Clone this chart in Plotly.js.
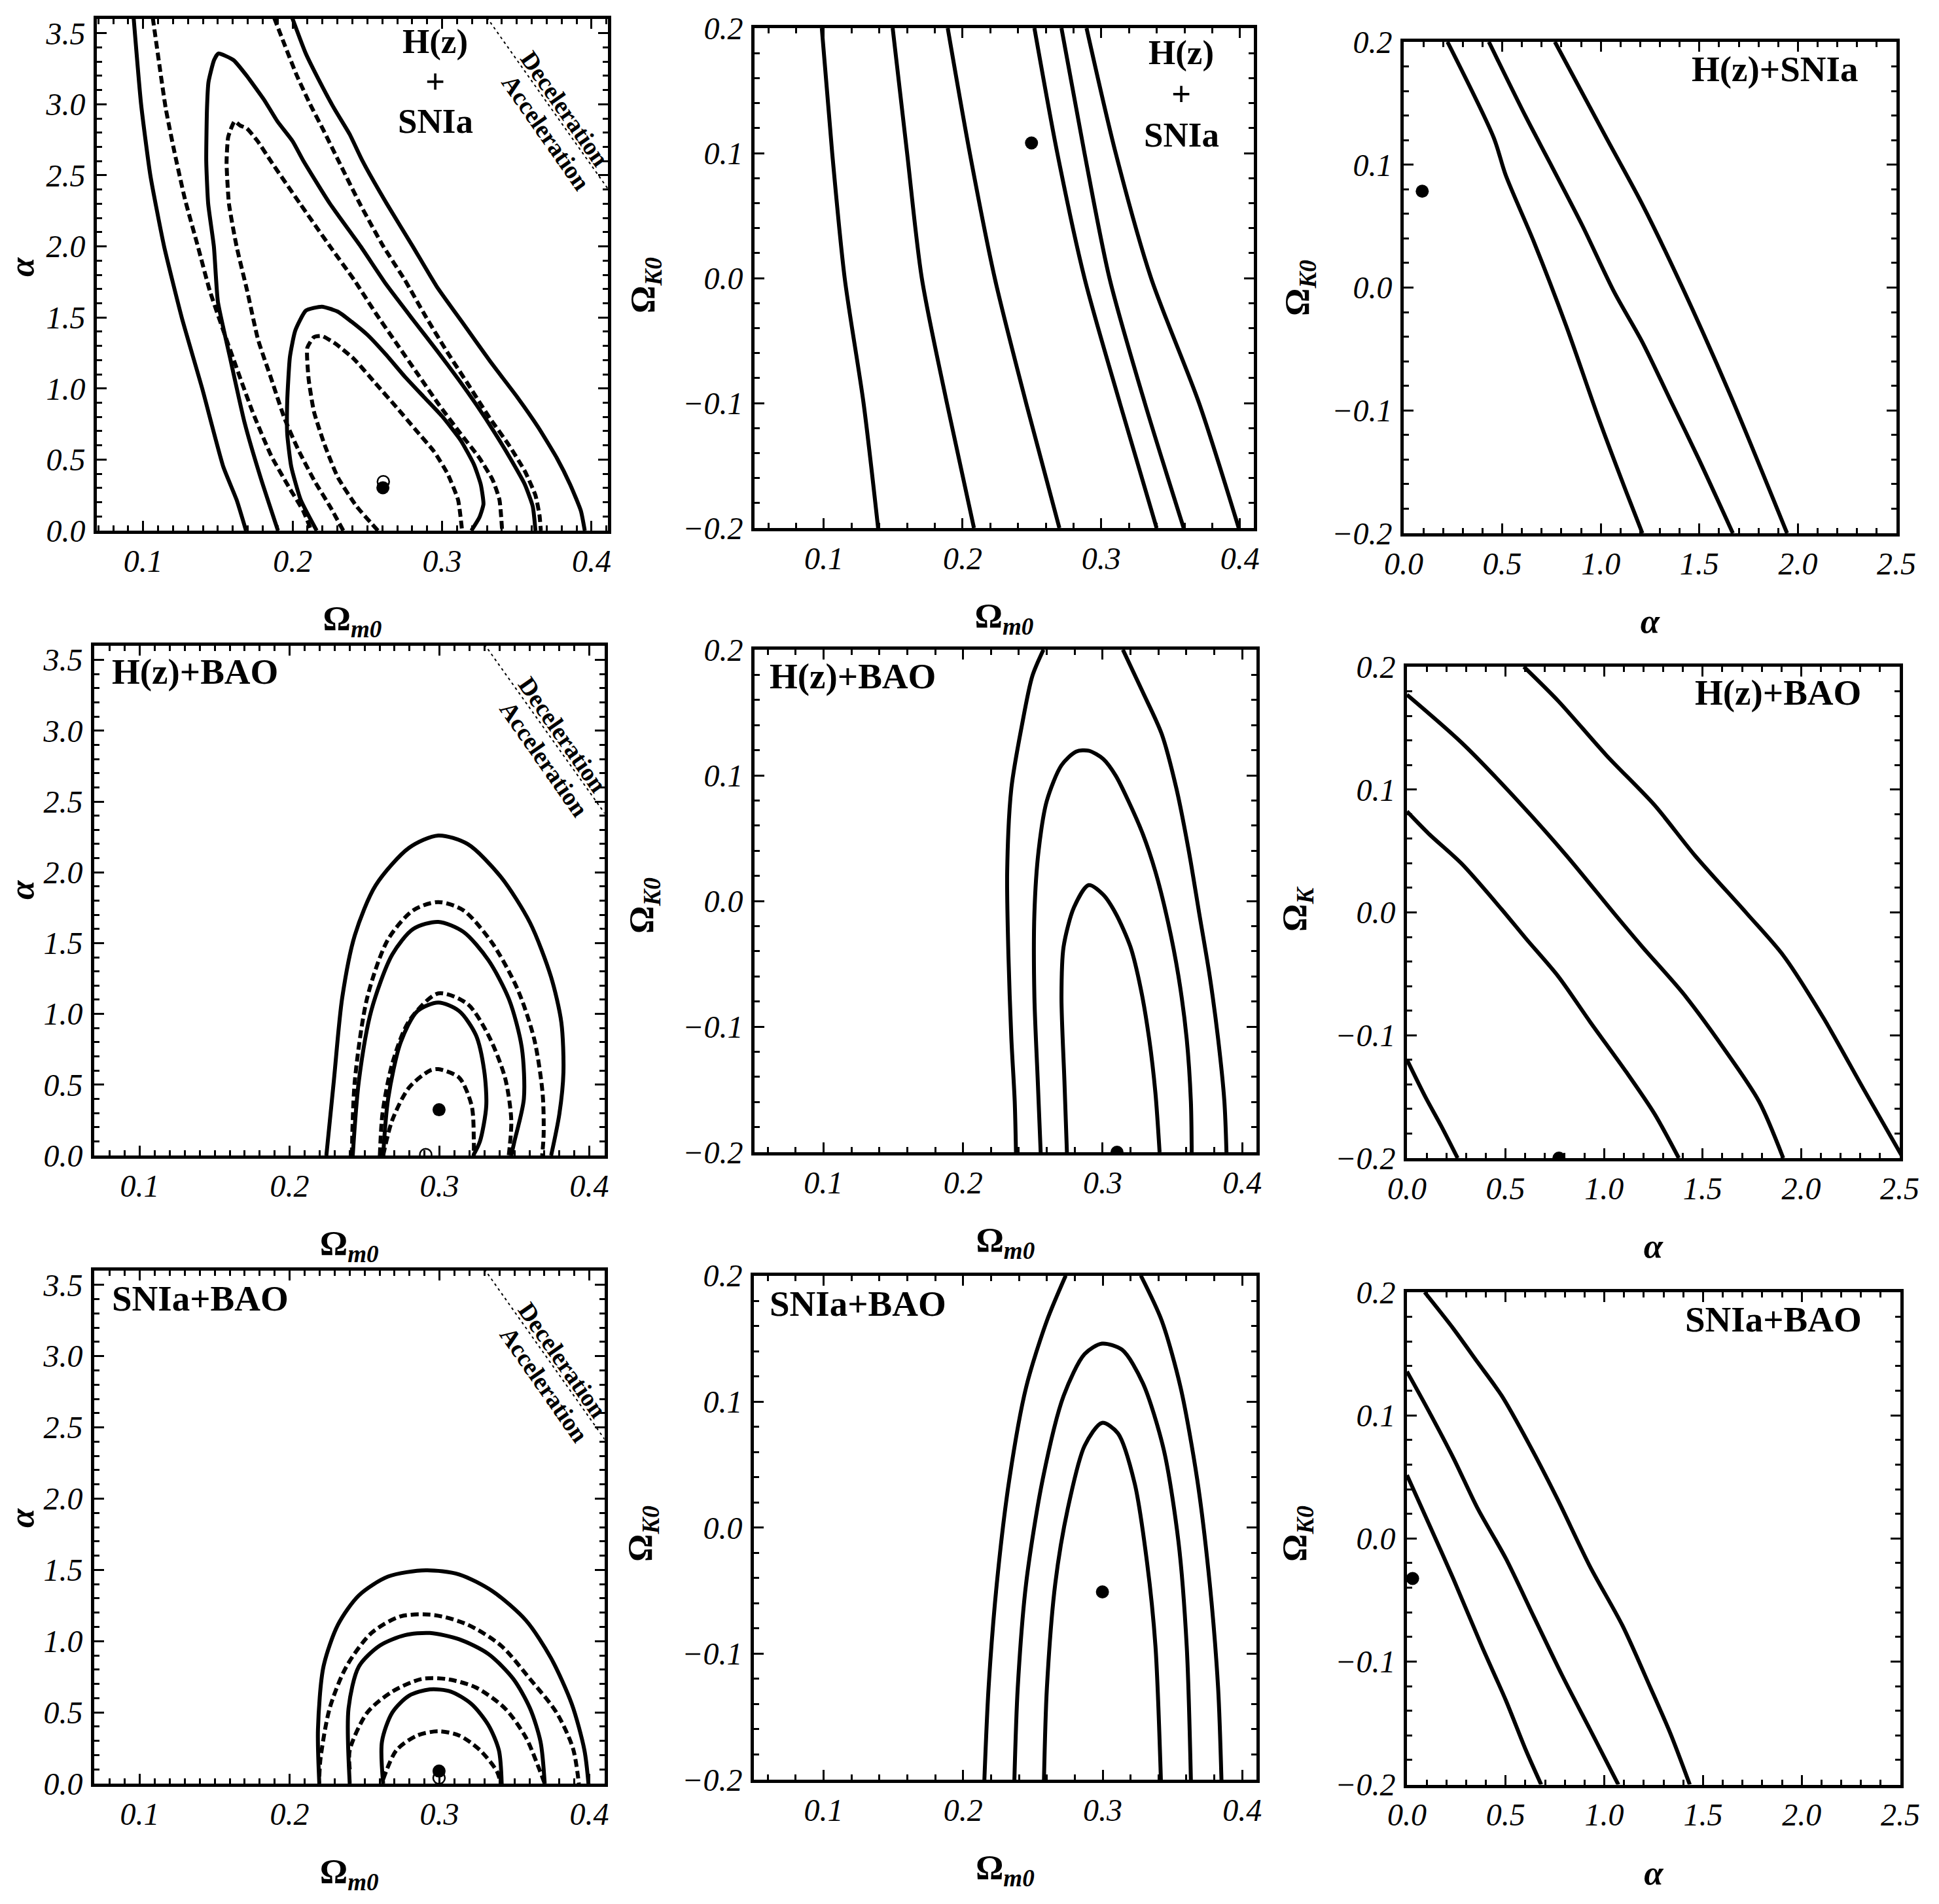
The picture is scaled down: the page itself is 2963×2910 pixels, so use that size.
<!DOCTYPE html>
<html>
<head>
<meta charset="utf-8">
<script src="https://cdn.plot.ly/plotly-3.0.1.min.js"></script>
<style>html,body{margin:0;padding:0;background:#fff}#plot{width:2963px;height:2910px}</style>
</head>
<body>
<div id="plot"></div>
<script>
// ---------------- DATA ----------------
// tick values / labels
const omTickVals = [0.1, 0.2, 0.3, 0.4];
const omTickText = ['0.1', '0.2', '0.3', '0.4'];
const alYTickVals = [0, 0.5, 1, 1.5, 2, 2.5, 3, 3.5];
const alYTickText = ['0.0', '0.5', '1.0', '1.5', '2.0', '2.5', '3.0', '3.5'];
const okTickVals = [-0.2, -0.1, 0, 0.1, 0.2];
const okTickText = ['\u22120.2', '\u22120.1', '0.0', '0.1', '0.2'];
const alXTickVals = [0, 0.5, 1, 1.5, 2, 2.5];
const alXTickText = ['0.0', '0.5', '1.0', '1.5', '2.0', '2.5'];

// Panel 1: H(z)+SNIa, Omega_m0 vs alpha  (solid & dashed contours)
const p1_solid3L = [[0.0936,3.61],[0.0986,3.0],[0.1048,2.5],[0.114,2.0],[0.1258,1.5],[0.1395,1.0],[0.1536,0.45],[0.1625,0.217],[0.1688,0]];
const p1_solid3R = [[0.1993,3.62],[0.2088,3.357],[0.2176,3.17],[0.2278,2.97],[0.2381,2.79],[0.2468,2.60],[0.263,2.3],[0.2804,2.0],[0.2964,1.718],[0.3143,1.455],[0.3321,1.192],[0.35,0.944],[0.3643,0.728],[0.3768,0.511],[0.3857,0.325],[0.3929,0.139],[0.3955,0]];
const p1_solid2 = [[0.1902,0],[0.1786,0.372],[0.1679,0.758],[0.158,1.223],[0.15,1.61],[0.1473,2.0],[0.1435,2.3],[0.1422,2.6],[0.1427,2.97],[0.1437,3.156],[0.1474,3.31],[0.1503,3.357],[0.1605,3.31],[0.1693,3.20],[0.1766,3.095],[0.181,3.03],[0.1898,2.88],[0.2,2.74],[0.2073,2.60],[0.225,2.3],[0.2455,2.0],[0.2625,1.734],[0.2804,1.486],[0.2964,1.269],[0.3107,1.068],[0.3232,0.882],[0.3357,0.681],[0.3464,0.495],[0.3554,0.325],[0.3607,0.170],[0.3625,0]];
const p1_solid1 = [[0.2161,0],[0.2054,0.217],[0.1991,0.449],[0.1964,0.681],[0.1964,0.913],[0.1982,1.223],[0.2018,1.409],[0.2089,1.548],[0.2196,1.576],[0.2304,1.54],[0.2393,1.471],[0.25,1.378],[0.2625,1.238],[0.275,1.084],[0.2875,0.944],[0.3,0.805],[0.3125,0.635],[0.3214,0.464],[0.3259,0.325],[0.3277,0.186],[0.325,0.093],[0.3196,0]];
const p1_dash3L = [[0.1064,3.61],[0.1108,3.28],[0.1151,2.97],[0.121,2.66],[0.128,2.33],[0.1366,2.0],[0.1446,1.687],[0.1536,1.409],[0.1625,1.145],[0.1732,0.836],[0.1857,0.526],[0.1982,0.294],[0.2071,0.139],[0.2125,0]];
const p1_dash3R = [[0.1876,3.61],[0.1942,3.43],[0.2029,3.20],[0.2117,3.0],[0.2205,2.82],[0.2308,2.60],[0.245,2.3],[0.2607,2.0],[0.275,1.765],[0.2893,1.502],[0.3036,1.254],[0.3179,1.022],[0.3321,0.789],[0.3446,0.604],[0.3554,0.418],[0.3625,0.248],[0.3652,0.108],[0.3661,0]];
const p1_dash2 = [[0.2339,0],[0.225,0.17],[0.2143,0.356],[0.2036,0.573],[0.1946,0.789],[0.1857,1.068],[0.1768,1.347],[0.1696,1.687],[0.1625,2.0],[0.1574,2.3],[0.1558,2.59],[0.1569,2.77],[0.1612,2.88],[0.1649,2.85],[0.1693,2.83],[0.1766,2.74],[0.1854,2.6],[0.205,2.3],[0.225,2.0],[0.2411,1.765],[0.2554,1.533],[0.2696,1.316],[0.2839,1.099],[0.2982,0.882],[0.3125,0.681],[0.325,0.511],[0.3339,0.356],[0.3384,0.217],[0.3402,0]];
const p1_dash1 = [[0.2571,0],[0.2429,0.17],[0.2304,0.372],[0.2214,0.604],[0.2143,0.836],[0.2107,1.068],[0.2098,1.285],[0.2143,1.362],[0.2196,1.37],[0.2286,1.316],[0.2411,1.207],[0.2554,1.037],[0.2696,0.867],[0.2821,0.712],[0.2946,0.557],[0.3036,0.402],[0.3107,0.217],[0.3134,0]];
const p1_best = [0.2604, 0.302];
const p1_bestOpen = [0.2607, 0.344];

// deceleration / acceleration boundary (same in all Omega_m0-alpha panels)
const decel_om = [0.330, 0.412];
const decel_al = [3.61, 2.39];

// Panel 2: H(z)+SNIa, Omega_m0 vs Omega_K0
const p2_l1 = [[0.0985,0.2],[0.106,0.1],[0.115,0.0],[0.1286,-0.1],[0.1391,-0.2]];
const p2_l2 = [[0.1496,0.2],[0.160,0.1],[0.1706,0.0],[0.1887,-0.1],[0.2082,-0.2]];
const p2_l3 = [[0.1893,0.2],[0.2052,0.1],[0.2232,0.0],[0.2458,-0.1],[0.2698,-0.2]];
const p2_l4 = [[0.2518,0.2],[0.2683,0.1],[0.2879,0.0],[0.3134,-0.1],[0.3399,-0.2]];
const p2_l5 = [[0.2713,0.2],[0.2879,0.1],[0.3059,0.0],[0.3314,-0.1],[0.3594,-0.2]];
const p2_l6 = [[0.2894,0.2],[0.3104,0.1],[0.3359,0.0],[0.3705,-0.1],[0.3991,-0.2]];
const p2_best = [0.2497, 0.1081];

// Panel 3: H(z)+SNIa, alpha vs Omega_K0
const p3_l1 = [[0.222,0.2],[0.457,0.1219],[0.518,0.0913],[0.661,0.037],[0.824,-0.031],[0.987,-0.1056],[1.13,-0.1667],[1.211,-0.2]];
const p3_l2 = [[0.432,0.2],[0.62,0.1389],[0.742,0.1015],[0.906,0.0506],[1.068,-0.0037],[1.211,-0.0445],[1.354,-0.092],[1.497,-0.1396],[1.67,-0.2]];
const p3_l3 = [[0.767,0.2],[1.028,0.1219],[1.211,0.0676],[1.415,-0.0003],[1.66,-0.0886],[1.945,-0.2]];
const p3_best = [0.094, 0.0784];

// Panel 4: H(z)+BAO, Omega_m0 vs alpha
const p4_solid3 = [[0.2245,0],[0.2295,0.528],[0.2351,1.116],[0.2435,1.556],[0.2574,1.908],[0.2797,2.173],[0.2992,2.26],[0.3187,2.2],[0.341,1.967],[0.3604,1.644],[0.3744,1.262],[0.3813,0.94],[0.3827,0.587],[0.38,0.294],[0.3745,0]];
const p4_dash3 = [[0.2415,0],[0.2435,0.528],[0.2518,1.116],[0.2657,1.527],[0.2825,1.732],[0.2992,1.79],[0.3159,1.732],[0.3354,1.497],[0.3521,1.174],[0.3632,0.822],[0.3688,0.44],[0.3695,0.15],[0.3685,0]];
const p4_solid2 = [[0.2421,0],[0.2462,0.528],[0.2546,1.028],[0.2685,1.42],[0.2825,1.6],[0.2992,1.65],[0.3159,1.58],[0.3326,1.38],[0.3465,1.1],[0.3549,0.763],[0.3563,0.4],[0.35,0.1],[0.3479,0]];
const p4_dash2 = [[0.2602,0],[0.262,0.3],[0.2685,0.65],[0.2797,0.95],[0.2992,1.145],[0.3187,1.07],[0.3326,0.85],[0.3437,0.55],[0.3479,0.25],[0.3462,0]];
const p4_solid1 = [[0.2624,0],[0.2657,0.4],[0.2741,0.8],[0.2853,1.02],[0.2992,1.08],[0.3131,1.02],[0.3243,0.85],[0.3298,0.6],[0.3312,0.35],[0.327,0.1],[0.3225,0]];
const p4_dash1 = [[0.2624,0],[0.2685,0.25],[0.2797,0.48],[0.2936,0.6],[0.2992,0.61],[0.3131,0.55],[0.3215,0.35],[0.3229,0.1],[0.3229,0]];
const p4_best = [0.2997, 0.323];
const p4_bestOpen = [0.2908, 0.006];

// Panel 5: H(z)+BAO, Omega_m0 vs Omega_K0
const p5_outerL = [[0.2576,0.2],[0.2496,0.179],[0.2421,0.1395],[0.2346,0.0897],[0.2316,0.0233],[0.2325,-0.0432],[0.2346,-0.1096],[0.237,-0.1595],[0.2379,-0.2]];
const p5_outerR = [[0.3145,0.2],[0.3288,0.1661],[0.3423,0.1329],[0.3528,0.0897],[0.3617,0.0399],[0.3692,-0.01],[0.3767,-0.0598],[0.3827,-0.1096],[0.3872,-0.1595],[0.3887,-0.2]];
const p5_mid = [[0.2556,-0.2],[0.2535,-0.1429],[0.2511,-0.0764],[0.2511,-0.01],[0.2541,0.0399],[0.26,0.0797],[0.2705,0.108],[0.281,0.1189],[0.29,0.1196],[0.3004,0.113],[0.3094,0.0997],[0.3184,0.0797],[0.3288,0.0532],[0.3378,0.0233],[0.3468,-0.0166],[0.3543,-0.0598],[0.3602,-0.1096],[0.3632,-0.1595],[0.3638,-0.2]];
const p5_inner = [[0.2744,-0.2],[0.2726,-0.1429],[0.2705,-0.0764],[0.272,-0.0365],[0.2795,-0.005],[0.29,0.0126],[0.3004,0.005],[0.3094,-0.01],[0.3199,-0.0365],[0.3273,-0.0698],[0.3333,-0.1096],[0.3378,-0.1528],[0.3408,-0.2]];
const p5_best = [0.3103, -0.2];

// Panel 6: H(z)+BAO, alpha vs Omega_K
const p6_l1 = [[0,-0.1199],[0.094,-0.1504],[0.175,-0.1742],[0.257,-0.2]];
const p6_l2 = [[0,0.0822],[0.114,0.0635],[0.277,0.0397],[0.481,0.0024],[0.604,-0.0214],[0.767,-0.052],[0.93,-0.0893],[1.113,-0.13],[1.256,-0.164],[1.379,-0.2]];
const p6_l3 = [[0,0.1772],[0.277,0.1382],[0.563,0.0907],[0.808,0.0465],[1.052,-0.001],[1.195,-0.0282],[1.399,-0.0655],[1.603,-0.1097],[1.786,-0.1538],[1.909,-0.2]];
const p6_l4 = [[0.593,0.2],[0.767,0.1722],[1.011,0.128],[1.256,0.0873],[1.46,0.0465],[1.725,-0.001],[1.909,-0.035],[2.113,-0.0859],[2.316,-0.1436],[2.51,-0.198]];
const p6_best = [0.771, -0.2];

// Panel 7: SNIa+BAO, Omega_m0 vs alpha
const p7_solid3 = [[0.2198,0],[0.2189,0.382],[0.2226,0.822],[0.2323,1.116],[0.2462,1.321],[0.2657,1.453],[0.2908,1.497],[0.3131,1.468],[0.3354,1.35],[0.3577,1.145],[0.3744,0.881],[0.3883,0.558],[0.3967,0.235],[0.3994,0]];
const p7_dash3 = [[0.2198,0.05],[0.2206,0.176],[0.2267,0.528],[0.2379,0.822],[0.2546,1.057],[0.2741,1.174],[0.2964,1.183],[0.3187,1.116],[0.341,0.969],[0.3604,0.734],[0.378,0.5],[0.389,0.25],[0.393,0]];
const p7_solid2 = [[0.2401,0],[0.2393,0.528],[0.2462,0.822],[0.2602,0.969],[0.2769,1.042],[0.2936,1.057],[0.3131,1.013],[0.3326,0.91],[0.3493,0.734],[0.3604,0.528],[0.3674,0.294],[0.3702,0]];
const p7_dash2 = [[0.2401,0.1],[0.2401,0.235],[0.2518,0.499],[0.2685,0.646],[0.288,0.734],[0.3047,0.734],[0.3242,0.675],[0.3437,0.528],[0.3577,0.323],[0.366,0.117],[0.3702,0]];
const p7_solid1 = [[0.2624,0],[0.2616,0.294],[0.2685,0.499],[0.2797,0.617],[0.2936,0.661],[0.3075,0.646],[0.3214,0.558],[0.3326,0.411],[0.3396,0.235],[0.3415,0]];
const p7_dash1 = [[0.2624,0.03],[0.2713,0.235],[0.2852,0.338],[0.2992,0.367],[0.3131,0.338],[0.327,0.235],[0.3382,0.088],[0.3409,0]];
const p7_best = [0.2997, 0.088];
const p7_bestOpen = [0.2997, 0.04];

// Panel 8: SNIa+BAO, Omega_m0 vs Omega_K0
const p8_outerL = [[0.2735,0.2],[0.26,0.1642],[0.2451,0.1113],[0.2331,0.0384],[0.2241,-0.0444],[0.2182,-0.1272],[0.2152,-0.2]];
const p8_outerR = [[0.3273,0.2],[0.3423,0.1642],[0.3558,0.1113],[0.3677,0.0384],[0.3767,-0.0444],[0.3827,-0.1272],[0.3851,-0.2]];
const p8_mid = [[0.2367,-0.2],[0.2391,-0.1272],[0.2451,-0.0444],[0.257,0.0384],[0.272,0.1046],[0.287,0.1377],[0.2995,0.146],[0.3139,0.1411],[0.3288,0.1146],[0.3438,0.0616],[0.3543,-0.0113],[0.3602,-0.094],[0.3632,-0.2]];
const p8_inner = [[0.2579,-0.2],[0.26,-0.1272],[0.266,-0.0444],[0.275,0.0152],[0.287,0.0649],[0.2995,0.0831],[0.3109,0.0748],[0.3229,0.0351],[0.3318,-0.0278],[0.3378,-0.094],[0.3417,-0.2]];
const p8_best = [0.2998, -0.051];

// Panel 9: SNIa+BAO, alpha vs Omega_K0
const p9_l1 = [[0,0.0515],[0.114,0.0108],[0.236,-0.0332],[0.379,-0.0875],[0.501,-0.1315],[0.603,-0.1722],[0.68,-0.2]];
const p9_l2 = [[0,0.1356],[0.114,0.1024],[0.236,0.0651],[0.358,0.0244],[0.501,-0.0163],[0.643,-0.0637],[0.786,-0.1112],[0.928,-0.1553],[1.071,-0.2]];
const p9_l3 = [[0.0896,0.2],[0.236,0.1702],[0.358,0.1431],[0.48,0.1159],[0.623,0.0753],[0.765,0.0312],[0.928,-0.023],[1.091,-0.0705],[1.234,-0.1214],[1.335,-0.1586],[1.433,-0.2]];
const p9_best = [0.0285, -0.0325];

// axis title texts
const OM = '<b>Ω<sub><i>m0</i></sub></b>';
const OK = '<b>Ω<sub><i>K0</i></sub></b>';
const OKs = '<b>Ω<sub><i>K</i></sub></b>';
const AL = '<b><i>α</i></b>';
const xTitles = [OM, OM, AL, OM, OM, AL, OM, OM, AL];

// ---------------- LAYOUT ----------------
const W = 2963, H = 2910;
const FONT = '"Liberation Serif", "Times New Roman", serif';
const px = v => v / W, py = v => 1 - v / H;

// panel frames in pixels: [left, right, top, bottom]
const frames = [
  [148, 929, 29, 811], [1153, 1916, 43, 807], [2145, 2898, 64, 815],
  [144, 923.5, 987, 1766], [1153, 1919.6, 993, 1761], [2150, 2903, 1019, 1770],
  [144, 923.5, 1942, 2726], [1152, 1919.6, 1949.5, 2720], [2150, 2904, 1975, 2727.6]
];
const xRanges = [[0.069,0.411],[0.05,0.41],[0,2.5],[0.0696,0.41],[0.0506,0.41],[0,2.5],[0.0696,0.41],[0.05,0.41],[0,2.5]];
const yRanges = [[0,3.6],[-0.2,0.2],[-0.2,0.2],[0,3.6],[-0.2,0.2],[-0.2,0.2],[0,3.6],[-0.2,0.2],[-0.2,0.2]];
const OMX = {vals: omTickVals, text: omTickText, minor: 0.01};
const OMX2 = {vals: omTickVals, text: omTickText, minor: 0.02};
const ALX = {vals: alXTickVals, text: alXTickText, minor: 0.1};
const ALY = {vals: alYTickVals, text: alYTickText, minor: 0.1};
const OKY = {vals: okTickVals, text: okTickText, minor: 0.02};
const xTickSet = [OMX, OMX2, ALX, OMX, OMX2, ALX, OMX, OMX2, ALX];
const yTickSet = [ALY, OKY, OKY, ALY, OKY, OKY, ALY, OKY, OKY];

function axis(domain, range, t, anchor, standoff) {
  return {
    domain: domain, range: range, anchor: anchor,
    tickmode: 'array', tickvals: t.vals, ticktext: t.text.map(s => '<i>' + s + '</i>'),
    ticks: 'inside', ticklen: 15, tickwidth: 3, tickcolor: '#000',
    showline: true, linewidth: 5, linecolor: '#000', mirror: 'ticks',
    showgrid: false, zeroline: false, fixedrange: true,
    ticklabelstandoff: standoff,
    tickfont: {family: FONT, size: 48, color: '#000'},
    minor: {dtick: t.minor, tick0: 0, ticks: 'inside', ticklen: 8, tickwidth: 3, tickcolor: '#000', showgrid: false}
  };
}

const layout = {
  width: W, height: H, margin: {l: 0, r: 0, t: 0, b: 0},
  paper_bgcolor: '#fff', plot_bgcolor: '#fff', showlegend: false,
  font: {family: FONT, color: '#000'},
  annotations: []
};
for (let i = 0; i < 9; i++) {
  const f = frames[i];
  const n = i === 0 ? '' : String(i + 1);
  const xa = axis([px(f[0]), px(f[1])], xRanges[i], xTickSet[i], 'y' + n, 0);
  xa.title = {text: xTitles[i], font: {family: FONT, size: 53, color: '#000'}, standoff: 45};
  layout['xaxis' + n] = xa;
  layout['yaxis' + n] = axis([py(f[3]), py(f[2])], yRanges[i], yTickSet[i], 'x' + n, 3);
}

// ---------------- TRACES ----------------
const traces = [];
function line(pts, k, dash, smooth) {
  const n = k === 1 ? '' : String(k);
  traces.push({
    type: 'scatter', mode: 'lines', xaxis: 'x' + n, yaxis: 'y' + n,
    x: pts.map(p => p[0]), y: pts.map(p => p[1]),
    line: {color: '#000', width: 6, dash: dash ? '12px,6px' : 'solid', shape: 'spline', smoothing: smooth || 0.8},
    hoverinfo: 'skip'
  });
}
function dot(pt, k, open) {
  const n = k === 1 ? '' : String(k);
  traces.push({
    type: 'scatter', mode: 'markers', xaxis: 'x' + n, yaxis: 'y' + n,
    x: [pt[0]], y: [pt[1]],
    marker: open ? {size: 18, color: '#fff', line: {color: '#000', width: 2.5}} : {size: 20, color: '#000'},
    hoverinfo: 'skip'
  });
}
function decel(k) {
  const n = k === 1 ? '' : String(k);
  traces.push({
    type: 'scatter', mode: 'lines', xaxis: 'x' + n, yaxis: 'y' + n,
    x: decel_om, y: decel_al, line: {color: '#000', width: 2, dash: '4px,5px'}, hoverinfo: 'skip'
  });
}

[p1_solid3L, p1_solid3R, p1_solid2, p1_solid1].forEach(c => line(c, 1, false, 0.5));
[p1_dash3L, p1_dash3R, p1_dash2, p1_dash1].forEach(c => line(c, 1, true, 0.5));
decel(1); dot(p1_bestOpen, 1, true); dot(p1_best, 1, false);
[p2_l1, p2_l2, p2_l3, p2_l4, p2_l5, p2_l6].forEach(c => line(c, 2, false));
dot(p2_best, 2, false);
[p3_l1, p3_l2, p3_l3].forEach(c => line(c, 3, false));
dot(p3_best, 3, false);
[p4_solid3, p4_solid2, p4_solid1].forEach(c => line(c, 4, false));
[p4_dash3, p4_dash2, p4_dash1].forEach(c => line(c, 4, true));
decel(4); dot(p4_bestOpen, 4, true); dot(p4_best, 4, false);
[p5_outerL, p5_outerR, p5_mid, p5_inner].forEach(c => line(c, 5, false));
dot(p5_best, 5, false);
[p6_l1, p6_l2, p6_l3, p6_l4].forEach(c => line(c, 6, false));
dot(p6_best, 6, false);
[p7_solid3, p7_solid2, p7_solid1].forEach(c => line(c, 7, false));
[p7_dash3, p7_dash2, p7_dash1].forEach(c => line(c, 7, true));
decel(7); dot(p7_bestOpen, 7, true); dot(p7_best, 7, false);
[p8_outerL, p8_outerR, p8_mid, p8_inner].forEach(c => line(c, 8, false));
dot(p8_best, 8, false);
[p9_l1, p9_l2, p9_l3].forEach(c => line(c, 9, false));
dot(p9_best, 9, false);

// ---------------- ANNOTATIONS ----------------
function ann(text, x, y, size, opts) {
  layout.annotations.push(Object.assign({
    text: text, x: px(x), y: py(y), xref: 'paper', yref: 'paper',
    showarrow: false, xanchor: 'center', yanchor: 'middle',
    font: {family: FONT, size: size, color: '#000'}
  }, opts || {}));
}
// y titles
ann(AL, 33, 408, 53, {textangle: -90});
ann(OK, 986, 436, 53, {textangle: -90});
ann(OK, 1986, 440, 53, {textangle: -90});
ann(AL, 33, 1360, 53, {textangle: -90});
ann(OK, 984, 1384, 53, {textangle: -90});
ann(OKs, 1982, 1390, 53, {textangle: -90});
ann(AL, 33, 2320, 53, {textangle: -90});
ann(OK, 982, 2344, 53, {textangle: -90});
ann(OK, 1982, 2344, 53, {textangle: -90});

// panel labels
ann('<b>H(z)</b>', 665, 63, 53); ann('<b>+</b>', 665, 124, 53); ann('<b>SNIa</b>', 665, 185, 53);
ann('<b>H(z)</b>', 1805, 80, 53); ann('<b>+</b>', 1805, 143, 53); ann('<b>SNIa</b>', 1805, 206, 53);
ann('<b>H(z)+SNIa</b>', 2712, 106, 55);
ann('<b>H(z)+BAO</b>', 169, 1026, 55, {xanchor: 'left'});
ann('<b>H(z)+BAO</b>', 1174, 1033, 55, {xanchor: 'left'});
ann('<b>H(z)+BAO</b>', 2717, 1058, 55);
ann('<b>SNIa+BAO</b>', 169, 1984, 55, {xanchor: 'left'});
ann('<b>SNIa+BAO</b>', 1174, 1992, 55, {xanchor: 'left'});
ann('<b>SNIa+BAO</b>', 2710, 2016, 55);

// Deceleration / Acceleration labels (data coordinates of the alpha panels)
[1, 4, 7].forEach(k => {
  const n = k === 1 ? '' : String(k);
  layout.annotations.push({text: '<b>Deceleration</b>', x: 0.3822, y: 2.97, xref: 'x' + n, yref: 'y' + n,
    showarrow: false, textangle: 55, font: {family: FONT, size: 38, color: '#000'}});
  layout.annotations.push({text: '<b>Acceleration</b>', x: 0.3698, y: 2.80, xref: 'x' + n, yref: 'y' + n,
    showarrow: false, textangle: 55, font: {family: FONT, size: 38, color: '#000'}});
});

Plotly.newPlot('plot', traces, layout, {staticPlot: true, displayModeBar: false});
</script>
</body>
</html>
